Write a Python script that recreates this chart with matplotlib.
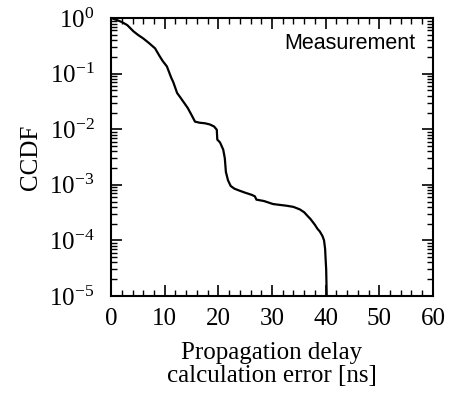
import math
import matplotlib
matplotlib.use('Agg')
import matplotlib.pyplot as plt
from matplotlib.ticker import LogLocator, FixedLocator, FuncFormatter, NullFormatter

# CCDF of propagation delay calculation error
error_ns = [0, 1, 2, 3, 4.15, 5, 6, 7, 8.2, 9, 9.6, 10.4, 11.2, 11.6, 12.3, 12.85,
            13.6, 14.3, 15.0, 15.64, 16.5, 17.5, 18.4, 19.2, 19.7, 19.8, 20.3,
            20.9, 21.2, 21.4, 21.8, 22.3, 23.0, 24.0, 25.0, 26.2, 26.8, 27.1,
            28.5, 30.2, 31.0, 32.7, 34.0, 35.2, 36.0, 36.4, 37.2, 38.0, 38.5,
            38.9, 39.4, 39.7, 39.9, 40.0, 40.1, 40.2, 40.25]
ccdf = [1.0, 0.93, 0.85, 0.75, 0.58, 0.50, 0.43, 0.36, 0.285, 0.21, 0.17, 0.135,
        0.085, 0.07, 0.045, 0.038, 0.030, 0.024, 0.018, 0.0137, 0.0131, 0.0128,
        0.0122, 0.0112, 0.0098, 0.0065, 0.0058, 0.0043, 0.0030, 0.0017, 0.0012,
        0.00095, 0.00085, 0.00078, 0.00072, 0.00066, 0.00062, 0.00054, 0.00051,
        0.00045, 0.00044, 0.00042, 0.00040, 0.00036, 0.00032, 0.00029, 0.00024,
        0.00019, 0.00016, 0.000145, 0.00012, 0.0001, 0.00007, 0.000045, 0.00003,
        0.00001, 0.000005]

x_ticks = [0, 10, 20, 30, 40, 50, 60]

serif = ['Liberation Serif', 'DejaVu Serif']
sans = ['Liberation Sans', 'DejaVu Sans']
plt.rcParams['font.family'] = serif
plt.rcParams['mathtext.fontset'] = 'custom'
plt.rcParams['mathtext.rm'] = 'Liberation Serif'

fig, ax = plt.subplots(figsize=(4.63, 3.94), dpi=100)
fig.subplots_adjust(left=0.24, right=0.935, top=0.954, bottom=0.249)

ax.plot(error_ns, ccdf, color='black', linewidth=1.6)
ax.set_yscale('log')
ax.set_xlim(0, 60)
ax.set_ylim(1e-5, 1)

ax.xaxis.set_major_locator(FixedLocator(x_ticks))
ax.xaxis.set_minor_locator(FixedLocator(range(0, 61, 2)))
ax.yaxis.set_major_locator(LogLocator(base=10, numticks=10))
ax.yaxis.set_minor_locator(LogLocator(base=10, subs=range(2, 10), numticks=20))
ax.yaxis.set_minor_formatter(NullFormatter())


def fmt(v, pos):
    e = int(round(math.log10(v)))
    return r'$\mathregular{10^{%d}}$' % e


ax.yaxis.set_major_formatter(FuncFormatter(fmt))

ax.tick_params(which='both', direction='in', top=True, right=True, labelsize=18)
ax.tick_params(which='major', length=8, width=1.2)
ax.tick_params(which='minor', length=4, width=1.0)
ax.tick_params(axis='x', which='major', pad=9)
ax.tick_params(axis='y', which='major', pad=12)

for s in ax.spines.values():
    s.set_linewidth(1.5)

ax.set_ylabel('CCDF', fontsize=18, labelpad=5)
ax.set_xlabel('Propagation delay\ncalculation error [ns]', fontsize=18, labelpad=8,
              linespacing=1.1)

ax.text(0.944, 0.91, 'Measurement', transform=ax.transAxes, ha='right', va='center',
        fontsize=15.5, family=sans)

fig.savefig('out.png', dpi=100)
